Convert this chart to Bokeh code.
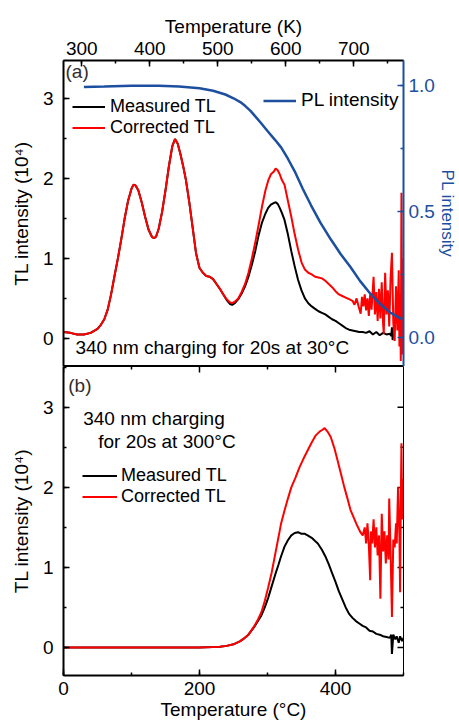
import math
from bokeh.plotting import figure
from bokeh.models import (Range1d, LinearAxis, SingleIntervalTicker, PrintfTickFormatter,
                          Legend, LegendItem, Label)
from bokeh.layouts import column
from bokeh.embed import file_html
from bokeh.resources import INLINE

FONT = "Liberation Sans"
FS = "19px"
BLUE = "#1c4fa0"
RED = "#ff0000"

# ---------------- Panel (a) data: temperature in °C ----------------
temp_a_corr = [0, 10, 20, 30, 40, 50, 55, 60, 65, 70, 75, 80, 85, 90, 95, 100, 103, 106, 110, 115,
               120, 125, 130, 133, 136, 140, 145, 150, 155, 160, 164, 168, 172, 176, 180, 185, 190,
               195, 200, 205, 210, 215, 220, 225, 230, 235, 240, 245, 248, 252, 257, 262, 267, 272,
               277, 282, 287, 292, 297, 301, 305, 309, 312, 315, 318, 321, 325, 330, 335, 340, 345,
               350, 355, 360, 365, 370, 375, 380, 385, 390, 395, 400, 405, 410, 415, 420, 425, 428,
               431, 434, 437, 439, 441, 443, 445, 447, 449, 451, 453, 456, 458, 460, 462, 464, 466,
               468, 470, 471, 473, 475, 477, 479, 481, 483, 485, 487, 489, 491, 493, 494, 495, 496,
               497, 498, 499, 500]
tl_a_corr = [0.08, 0.07, 0.05, 0.05, 0.07, 0.12, 0.17, 0.24, 0.36, 0.55, 0.78, 1.00, 1.24, 1.50, 1.72,
             1.87, 1.92, 1.91, 1.85, 1.70, 1.52, 1.36, 1.27, 1.25, 1.27, 1.37, 1.58, 1.85, 2.15, 2.40,
             2.49, 2.43, 2.30, 2.15, 1.98, 1.70, 1.38, 1.06, 0.88, 0.82, 0.78, 0.77, 0.74, 0.68, 0.62,
             0.55, 0.49, 0.45, 0.44, 0.46, 0.50, 0.58, 0.68, 0.82, 1.00, 1.20, 1.42, 1.65, 1.85, 1.97,
             2.05, 2.08, 2.12, 2.10, 2.05, 1.98, 1.92, 1.72, 1.52, 1.30, 1.11, 0.95, 0.86, 0.82, 0.80,
             0.77, 0.76, 0.75, 0.72, 0.68, 0.64, 0.59, 0.55, 0.53, 0.51, 0.49, 0.47, 0.42, 0.50, 0.40,
             0.31, 0.52, 0.40, 0.55, 0.35, 0.50, 0.28, 0.55, 0.36, 0.77, 0.30, 0.58, 0.22, 0.62, 0.25,
             0.70, 0.18, 0.06, 0.82, 0.30, 0.60, 0.15, 0.75, 1.07, 0.20, -0.03, 0.65, 0.10, 0.85,
             -0.10, 0.55, -0.28, 1.82, -0.20, 1.00, 0.20]

temp_a_meas = [0, 10, 20, 30, 40, 50, 55, 60, 65, 70, 75, 80, 85, 90, 95, 100, 103, 106, 110, 115,
               120, 125, 130, 133, 136, 140, 145, 150, 155, 160, 164, 168, 172, 176, 180, 185, 190,
               195, 200, 205, 210, 215, 220, 225, 230, 235, 240, 245, 248, 252, 257, 262, 267, 272,
               277, 282, 287, 292, 297, 301, 305, 309, 312, 315, 318, 321, 325, 330, 335, 340, 345,
               350, 355, 360, 365, 370, 375, 380, 385, 390, 395, 400, 405, 410, 415, 420, 425, 430,
               435, 440, 445, 450, 455, 460, 465, 470, 475, 480, 482, 483, 484, 485]
tl_a_meas = [0.08, 0.07, 0.05, 0.05, 0.07, 0.12, 0.17, 0.24, 0.36, 0.55, 0.78, 1.00, 1.24, 1.50, 1.72,
             1.87, 1.92, 1.91, 1.85, 1.70, 1.52, 1.36, 1.27, 1.25, 1.27, 1.37, 1.58, 1.85, 2.15, 2.40,
             2.49, 2.43, 2.30, 2.15, 1.98, 1.70, 1.38, 1.06, 0.88, 0.82, 0.78, 0.77, 0.74, 0.68, 0.62,
             0.55, 0.48, 0.43, 0.42, 0.44, 0.49, 0.56, 0.65, 0.77, 0.92, 1.09, 1.29, 1.45, 1.56, 1.63,
             1.67, 1.69, 1.70, 1.68, 1.63, 1.57, 1.48, 1.30, 1.09, 0.90, 0.73, 0.60, 0.50, 0.44, 0.40,
             0.37, 0.34, 0.32, 0.30, 0.27, 0.24, 0.22, 0.19, 0.16, 0.13, 0.11, 0.10, 0.09, 0.08, 0.08,
             0.07, 0.09, 0.05, 0.08, 0.04, 0.07, 0.05, 0.06, 0.03, 0.14, -0.02, 0.10]

temp_pl = [30, 60, 100, 140, 170, 200, 220, 238, 250, 260, 267, 275, 283, 291, 300, 311, 320, 330,
           340, 352, 364, 378, 393, 408, 422, 436, 451, 465, 480, 498]
pl_int = [0.995, 0.997, 1.0, 1.0, 0.997, 0.99, 0.98, 0.965, 0.95, 0.935, 0.92, 0.90, 0.875, 0.85,
          0.82, 0.785, 0.755, 0.71, 0.66, 0.59, 0.525, 0.455, 0.39, 0.33, 0.28, 0.225, 0.175,
          0.135, 0.10, 0.072]

# ---------------- Panel (b) data ----------------
temp_b_meas = [0, 25, 50, 75, 100, 125, 150, 175, 200, 220, 230, 240, 250, 260, 265, 272, 280, 286,
               291, 296, 301, 306, 311, 316, 320, 325, 330, 335, 340, 345, 350, 355, 359, 365, 370,
               374, 380, 385, 390, 395, 400, 405, 410, 415, 420, 425, 430, 435, 440, 445, 450, 455,
               460, 465, 470, 475, 480, 482, 483, 485, 488, 490, 493, 495, 498, 500]
tl_b_meas = [0.0, 0.0, 0.0, 0.0, 0.0, 0.0, 0.0, 0.0, 0.0, 0.005, 0.01, 0.02, 0.04, 0.08, 0.11, 0.16,
             0.25, 0.33, 0.40, 0.50, 0.62, 0.76, 0.90, 1.03, 1.14, 1.26, 1.34, 1.40, 1.43, 1.44, 1.42,
             1.42, 1.40, 1.37, 1.33, 1.30, 1.22, 1.14, 1.04, 0.93, 0.82, 0.70, 0.60, 0.50, 0.42, 0.37,
             0.33, 0.30, 0.27, 0.25, 0.21, 0.20, 0.17, 0.16, 0.14, 0.13, 0.12, 0.16, -0.08, 0.16, 0.10,
             0.14, 0.06, 0.14, 0.08, 0.12]

temp_b_corr = [0, 25, 50, 75, 100, 125, 150, 175, 200, 220, 230, 240, 250, 260, 265, 272, 280, 286,
               291, 296, 301, 306, 311, 316, 320, 325, 330, 335, 341, 347, 353, 359, 365, 371, 377,
               381, 384, 388, 393, 398, 403, 408, 413, 418, 422, 427, 432, 436, 440, 443, 445, 447,
               449, 451, 452, 454, 456, 458, 460, 462, 464, 466, 468, 470, 472, 474, 476, 478, 479,
               481, 483, 485, 487, 489, 490, 492, 494, 495, 496, 497, 498, 499, 500]
tl_b_corr = [0.0, 0.0, 0.0, 0.0, 0.0, 0.0, 0.0, 0.0, 0.0, 0.005, 0.01, 0.02, 0.04, 0.08, 0.11, 0.16,
             0.26, 0.35, 0.44, 0.58, 0.75, 0.93, 1.15, 1.37, 1.55, 1.71, 1.86, 2.00, 2.12, 2.25, 2.36,
             2.46, 2.56, 2.65, 2.70, 2.72, 2.74, 2.70, 2.63, 2.50, 2.34, 2.17, 2.00, 1.85, 1.72, 1.62,
             1.52, 1.45, 1.40, 1.50, 1.30, 1.55, 1.28, 0.84, 1.45, 1.30, 1.60, 1.25, 1.50, 1.15, 1.40,
             0.61, 1.67, 1.20, 1.45, 1.05, 1.40, 1.10, 1.86, 1.20, 0.38, 1.35, 1.25, 1.55, 1.30, 2.00,
             1.40, 0.69, 1.80, 2.55, 1.60, 2.10, 1.65]

# ---------------- tick settings ----------------
x_major, x_minor = 200, 2
k_major, k_minor = 100, 2
y_major, y_minor = 1, 2
pl_major, pl_minor = 0.5, 2
# mirrored (label-less) ticks of panel (b): top edge and right edge
b_top_major = [0, 200, 400]
b_top_minor = [100, 300]
b_right_major = [0, 1, 2, 3]
b_right_minor = [0.5, 1.5, 2.5]


def style_axis(ax, color="black"):
    ax.major_tick_in = 6
    ax.major_tick_out = 0
    ax.minor_tick_in = 3
    ax.minor_tick_out = 0
    ax.major_tick_line_width = 1.5
    ax.minor_tick_line_width = 1.5
    ax.major_tick_line_color = color
    ax.minor_tick_line_color = color
    ax.axis_line_color = color
    ax.axis_line_width = 2
    ax.major_label_text_font = FONT
    ax.major_label_text_color = color
    ax.major_label_text_font_size = FS
    ax.axis_label_text_font = FONT
    ax.axis_label_text_font_style = "normal"
    ax.axis_label_text_color = color
    ax.axis_label_text_font_size = FS


def make_legend(fig, label, renderer, loc, glyph_w, standoff, size):
    lg = Legend(items=[LegendItem(label=label, renderers=[renderer])], location=loc)
    lg.glyph_width = glyph_w
    lg.glyph_height = 17
    lg.label_height = 17
    lg.label_standoff = standoff
    lg.spacing = 0
    lg.padding = 0
    lg.margin = 0
    lg.label_text_font = FONT
    lg.label_text_font_size = size
    lg.label_text_color = "black"
    lg.background_fill_alpha = 0
    lg.border_line_color = None
    fig.add_layout(lg)


# ---------------- Panel (a) ----------------
pa = figure(width=459, height=366, x_range=Range1d(0, 500), y_range=Range1d(-0.35, 3.47),
            output_backend="svg", toolbar_location=None, x_axis_location=None,
            min_border_left=63, min_border_right=52, min_border_top=60, min_border_bottom=0)
pa.grid.visible = False
pa.outline_line_color = "black"
pa.outline_line_width = 1

pa.extra_x_ranges = {"K": Range1d(273.15, 773.15)}
pa.extra_y_ranges = {"pl": Range1d(-0.115, 1.10)}

pa.yaxis.ticker = SingleIntervalTicker(interval=y_major, num_minor_ticks=y_minor)
pa.yaxis.axis_label = "TL intensity (10⁴)"
style_axis(pa.yaxis[0])
pa.yaxis.major_label_standoff = 10
pa.yaxis.axis_label_standoff = 8

top_a = LinearAxis(x_range_name="K", ticker=SingleIntervalTicker(interval=k_major, num_minor_ticks=k_minor),
                   axis_label="Temperature (K)")
style_axis(top_a)
top_a.major_label_standoff = 6
top_a.axis_label_standoff = 2
pa.add_layout(top_a, "above")

right_a = LinearAxis(y_range_name="pl", ticker=SingleIntervalTicker(interval=pl_major, num_minor_ticks=pl_minor),
                     formatter=PrintfTickFormatter(format="%.1f"), axis_label="PL intensity")
style_axis(right_a, color=BLUE)
right_a.major_label_standoff = 5
right_a.axis_label_standoff = 0
right_a.axis_label_text_font_size = "17px"
pa.add_layout(right_a, "right")

r_meas_a = pa.line(temp_a_meas, tl_a_meas, line_color="black", line_width=2)
r_corr_a = pa.line(temp_a_corr, tl_a_corr, line_color=RED, line_width=2)
r_pl = pa.line(temp_pl, pl_int, line_color=BLUE, line_width=2.5, y_range_name="pl")

make_legend(pa, "Measured TL", r_meas_a, (9, 249), 33, 5, "18px")
make_legend(pa, "Corrected TL", r_corr_a, (9, 228), 33, 5, "18px")
make_legend(pa, "PL intensity", r_pl, (200, 255), 33, 5, FS)

pa.add_layout(Label(x=3, y=3.33, text="(a)", text_font=FONT, text_font_size=FS,
                    text_baseline="middle", text_color="#332c2c"))
pa.add_layout(Label(x=17.5, y=-0.11, text="340 nm charging for 20s at 30°C", text_font=FONT,
                    text_font_size=FS, text_baseline="middle", text_color="black"))

# ---------------- Panel (b) ----------------
pb = figure(width=459, height=358, x_range=Range1d(0, 500), y_range=Range1d(-0.35, 3.51),
            output_backend="svg", toolbar_location=None,
            min_border_left=63, min_border_right=52, min_border_top=0, min_border_bottom=49)
pb.grid.visible = False
pb.outline_line_color = "black"
pb.outline_line_width = 1

pb.xaxis.ticker = SingleIntervalTicker(interval=x_major, num_minor_ticks=x_minor)
pb.xaxis.axis_label = "Temperature (°C)"
style_axis(pb.xaxis[0])
pb.xaxis.major_label_standoff = 6
pb.xaxis.axis_label_standoff = 1

pb.yaxis.ticker = SingleIntervalTicker(interval=y_major, num_minor_ticks=y_minor)
pb.yaxis.axis_label = "TL intensity (10⁴)"
style_axis(pb.yaxis[0])
pb.yaxis.major_label_standoff = 10
pb.yaxis.axis_label_standoff = 8

# mirrored inward ticks (no labels) on top and right edges of panel (b)
y_top_b = pb.y_range.end
x_right_b = pb.x_range.end
pb.ray(x=b_top_major, y=[y_top_b] * len(b_top_major), length=6, length_units="screen",
       angle=-math.pi / 2, line_color="black", line_width=1.5)
pb.ray(x=b_top_minor, y=[y_top_b] * len(b_top_minor), length=3, length_units="screen",
       angle=-math.pi / 2, line_color="black", line_width=1.5)
pb.ray(x=[x_right_b] * len(b_right_major), y=b_right_major, length=6, length_units="screen",
       angle=math.pi, line_color="black", line_width=1.5)
pb.ray(x=[x_right_b] * len(b_right_minor), y=b_right_minor, length=3, length_units="screen",
       angle=math.pi, line_color="black", line_width=1.5)

r_meas_b = pb.line(temp_b_meas, tl_b_meas, line_color="black", line_width=2)
r_corr_b = pb.line(temp_b_corr, tl_b_corr, line_color=RED, line_width=2)

make_legend(pb, "Measured TL", r_meas_b, (19, 189), 35, 4, "18px")
make_legend(pb, "Corrected TL", r_corr_b, (19, 168), 35, 4, "18px")

pb.add_layout(Label(x=7, y=3.27, text="(b)", text_font=FONT, text_font_size=FS,
                    text_baseline="middle", text_color="#332c2c"))
pb.add_layout(Label(x=29, y=2.86, text="340 nm charging", text_font=FONT,
                    text_font_size=FS, text_baseline="middle", text_color="black"))
pb.add_layout(Label(x=51, y=2.57, text="for 20s at 300°C", text_font=FONT,
                    text_font_size=FS, text_baseline="middle", text_color="black"))

layout = column(pa, pb, spacing=0)
open("out.html", "w").write(file_html(layout, INLINE))
